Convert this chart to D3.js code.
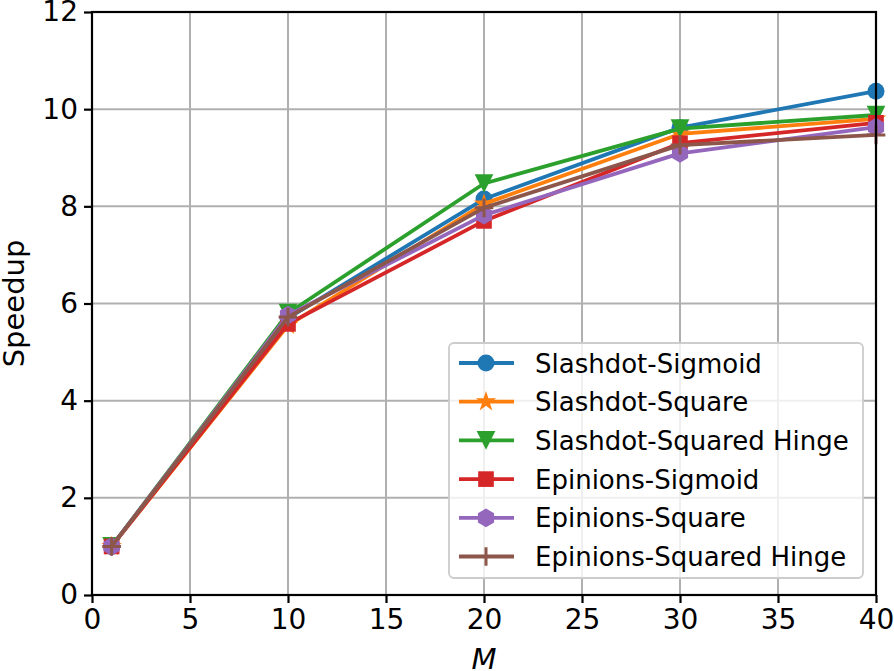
<!DOCTYPE html>
<html><head><meta charset="utf-8">
<script src="https://cdn.jsdelivr.net/npm/d3@7"></script>
<style>body{margin:0;background:#fff}svg{display:block;font-family:"DejaVu Sans",sans-serif}</style>
</head><body><svg id="c" width="894" height="671"></svg>
<script>
const mValues = [1, 10, 20, 30, 40];
const seriesNames = ["Slashdot-Sigmoid","Slashdot-Square","Slashdot-Squared Hinge","Epinions-Sigmoid","Epinions-Square","Epinions-Squared Hinge"];
const slashdotSigmoid = [1.0, 5.70, 8.15, 9.62, 10.37];
const slashdotSquare = [1.0, 5.55, 8.05, 9.49, 9.80];
const slashdotHinge = [1.0, 5.80, 8.47, 9.60, 9.88];
const epinionsSigmoid = [1.0, 5.58, 7.70, 9.30, 9.72];
const epinionsSquare = [1.0, 5.76, 7.82, 9.09, 9.63];
const epinionsHinge = [1.0, 5.72, 7.97, 9.26, 9.47];
const seriesValues = [slashdotSigmoid, slashdotSquare, slashdotHinge, epinionsSigmoid, epinionsSquare, epinionsHinge];
const colors = ["#1f77b4","#ff7f0e","#2ca02c","#d62728","#9467bd","#8c564b"];
const xTicks = [0,5,10,15,20,25,30,35,40];
const yTicks = [0,2,4,6,8,10,12];

const svg = d3.select("#c");
const L=92, R=876, T=12, B=595;
const x = d3.scaleLinear().domain([0,40]).range([L,R]);
const y = d3.scaleLinear().domain([0,12]).range([B,T]);
const fs = 26, tfs = 28, afs = 29;

// grid
const g = svg.append("g");
g.selectAll(".gx").data(xTicks).enter().append("line")
 .attr("x1",d=>x(d)).attr("x2",d=>x(d)).attr("y1",T).attr("y2",B)
 .attr("stroke","#b0b0b0").attr("stroke-width",2);
g.selectAll(".gy").data(yTicks).enter().append("line")
 .attr("y1",d=>y(d)).attr("y2",d=>y(d)).attr("x1",L).attr("x2",R)
 .attr("stroke","#b0b0b0").attr("stroke-width",2);

// markers
function marker(sel, i, cx, cy, s) {
  const c = colors[i];
  if (i===0) sel.append("circle").attr("cx",cx).attr("cy",cy).attr("r",s*0.5).attr("fill",c);
  else if (i===1) sel.append("path").attr("d",d3.symbol(d3.symbolStar, s*s*0.45)()).attr("transform",`translate(${cx},${cy})`).attr("fill",c);
  else if (i===2) { const h=s*0.55; sel.append("path").attr("d",`M${cx-h},${cy-h}L${cx+h},${cy-h}L${cx},${cy+h}Z`).attr("fill",c); }
  else if (i===3) { const h=s*0.46; sel.append("rect").attr("x",cx-h).attr("y",cy-h).attr("width",2*h).attr("height",2*h).attr("fill",c); }
  else if (i===4) { const r=s*0.55; const pts=d3.range(6).map(k=>{const a=Math.PI/2+k*Math.PI/3;return [cx+r*Math.cos(a),cy+r*Math.sin(a)];}); sel.append("polygon").attr("points",pts.map(p=>p.join(",")).join(" ")).attr("fill",c); }
  else { const h=s*0.55; sel.append("path").attr("d",`M${cx-h},${cy}L${cx+h},${cy}M${cx},${cy-h}L${cx},${cy+h}`).attr("stroke",c).attr("stroke-width",3); }
}

const line = d3.line().x((d,k)=>x(mValues[k])).y(d=>y(d));
seriesValues.forEach((vals,i)=>{
  const sg = svg.append("g");
  sg.append("path").attr("d",line(vals)).attr("fill","none").attr("stroke",colors[i]).attr("stroke-width",3.8).attr("stroke-linejoin","round");
  vals.forEach((v,k)=>marker(sg,i,x(mValues[k]),y(v),17));
});

// spines
svg.append("rect").attr("x",L).attr("y",T).attr("width",R-L).attr("height",B-T).attr("fill","none").attr("stroke","#000").attr("stroke-width",2.2);

// axes
const xa = svg.append("g").attr("transform",`translate(0,${B})`).call(d3.axisBottom(x).tickValues(xTicks).tickSize(8).tickPadding(6).tickFormat(d3.format("d")));
const ya = svg.append("g").attr("transform",`translate(${L},0)`).call(d3.axisLeft(y).tickValues(yTicks).tickSize(8).tickPadding(6).tickFormat(d3.format("d")));
[xa,ya].forEach(a=>{a.select(".domain").remove();a.selectAll("line").attr("stroke","#000").attr("stroke-width",2.2);a.selectAll("text").attr("font-size",tfs).attr("font-family","DejaVu Sans").attr("fill","#000");});
svg.append("text").attr("x",x(20)).attr("y",669).attr("text-anchor","middle").attr("font-size",afs).attr("font-style","italic").text("M");
svg.append("text").attr("transform",`translate(24,${(T+B)/2}) rotate(-90)`).attr("text-anchor","middle").attr("font-size",afs).text("Speedup");

// legend
const lg = svg.append("g");
lg.append("rect").attr("x",449).attr("y",343).attr("width",414).attr("height",235).attr("rx",5).attr("fill","rgba(255,255,255,0.8)").attr("stroke","#cccccc").attr("stroke-width",1.8);
seriesNames.forEach((n,i)=>{
  const ly = 363 + i*38.7;
  lg.append("line").attr("x1",459).attr("x2",514).attr("y1",ly).attr("y2",ly).attr("stroke",colors[i]).attr("stroke-width",3.8);
  marker(lg,i,486,ly,17);
  lg.append("text").attr("x",535).attr("y",ly+9.5).attr("font-size",fs).text(n);
});
</script></body></html>
